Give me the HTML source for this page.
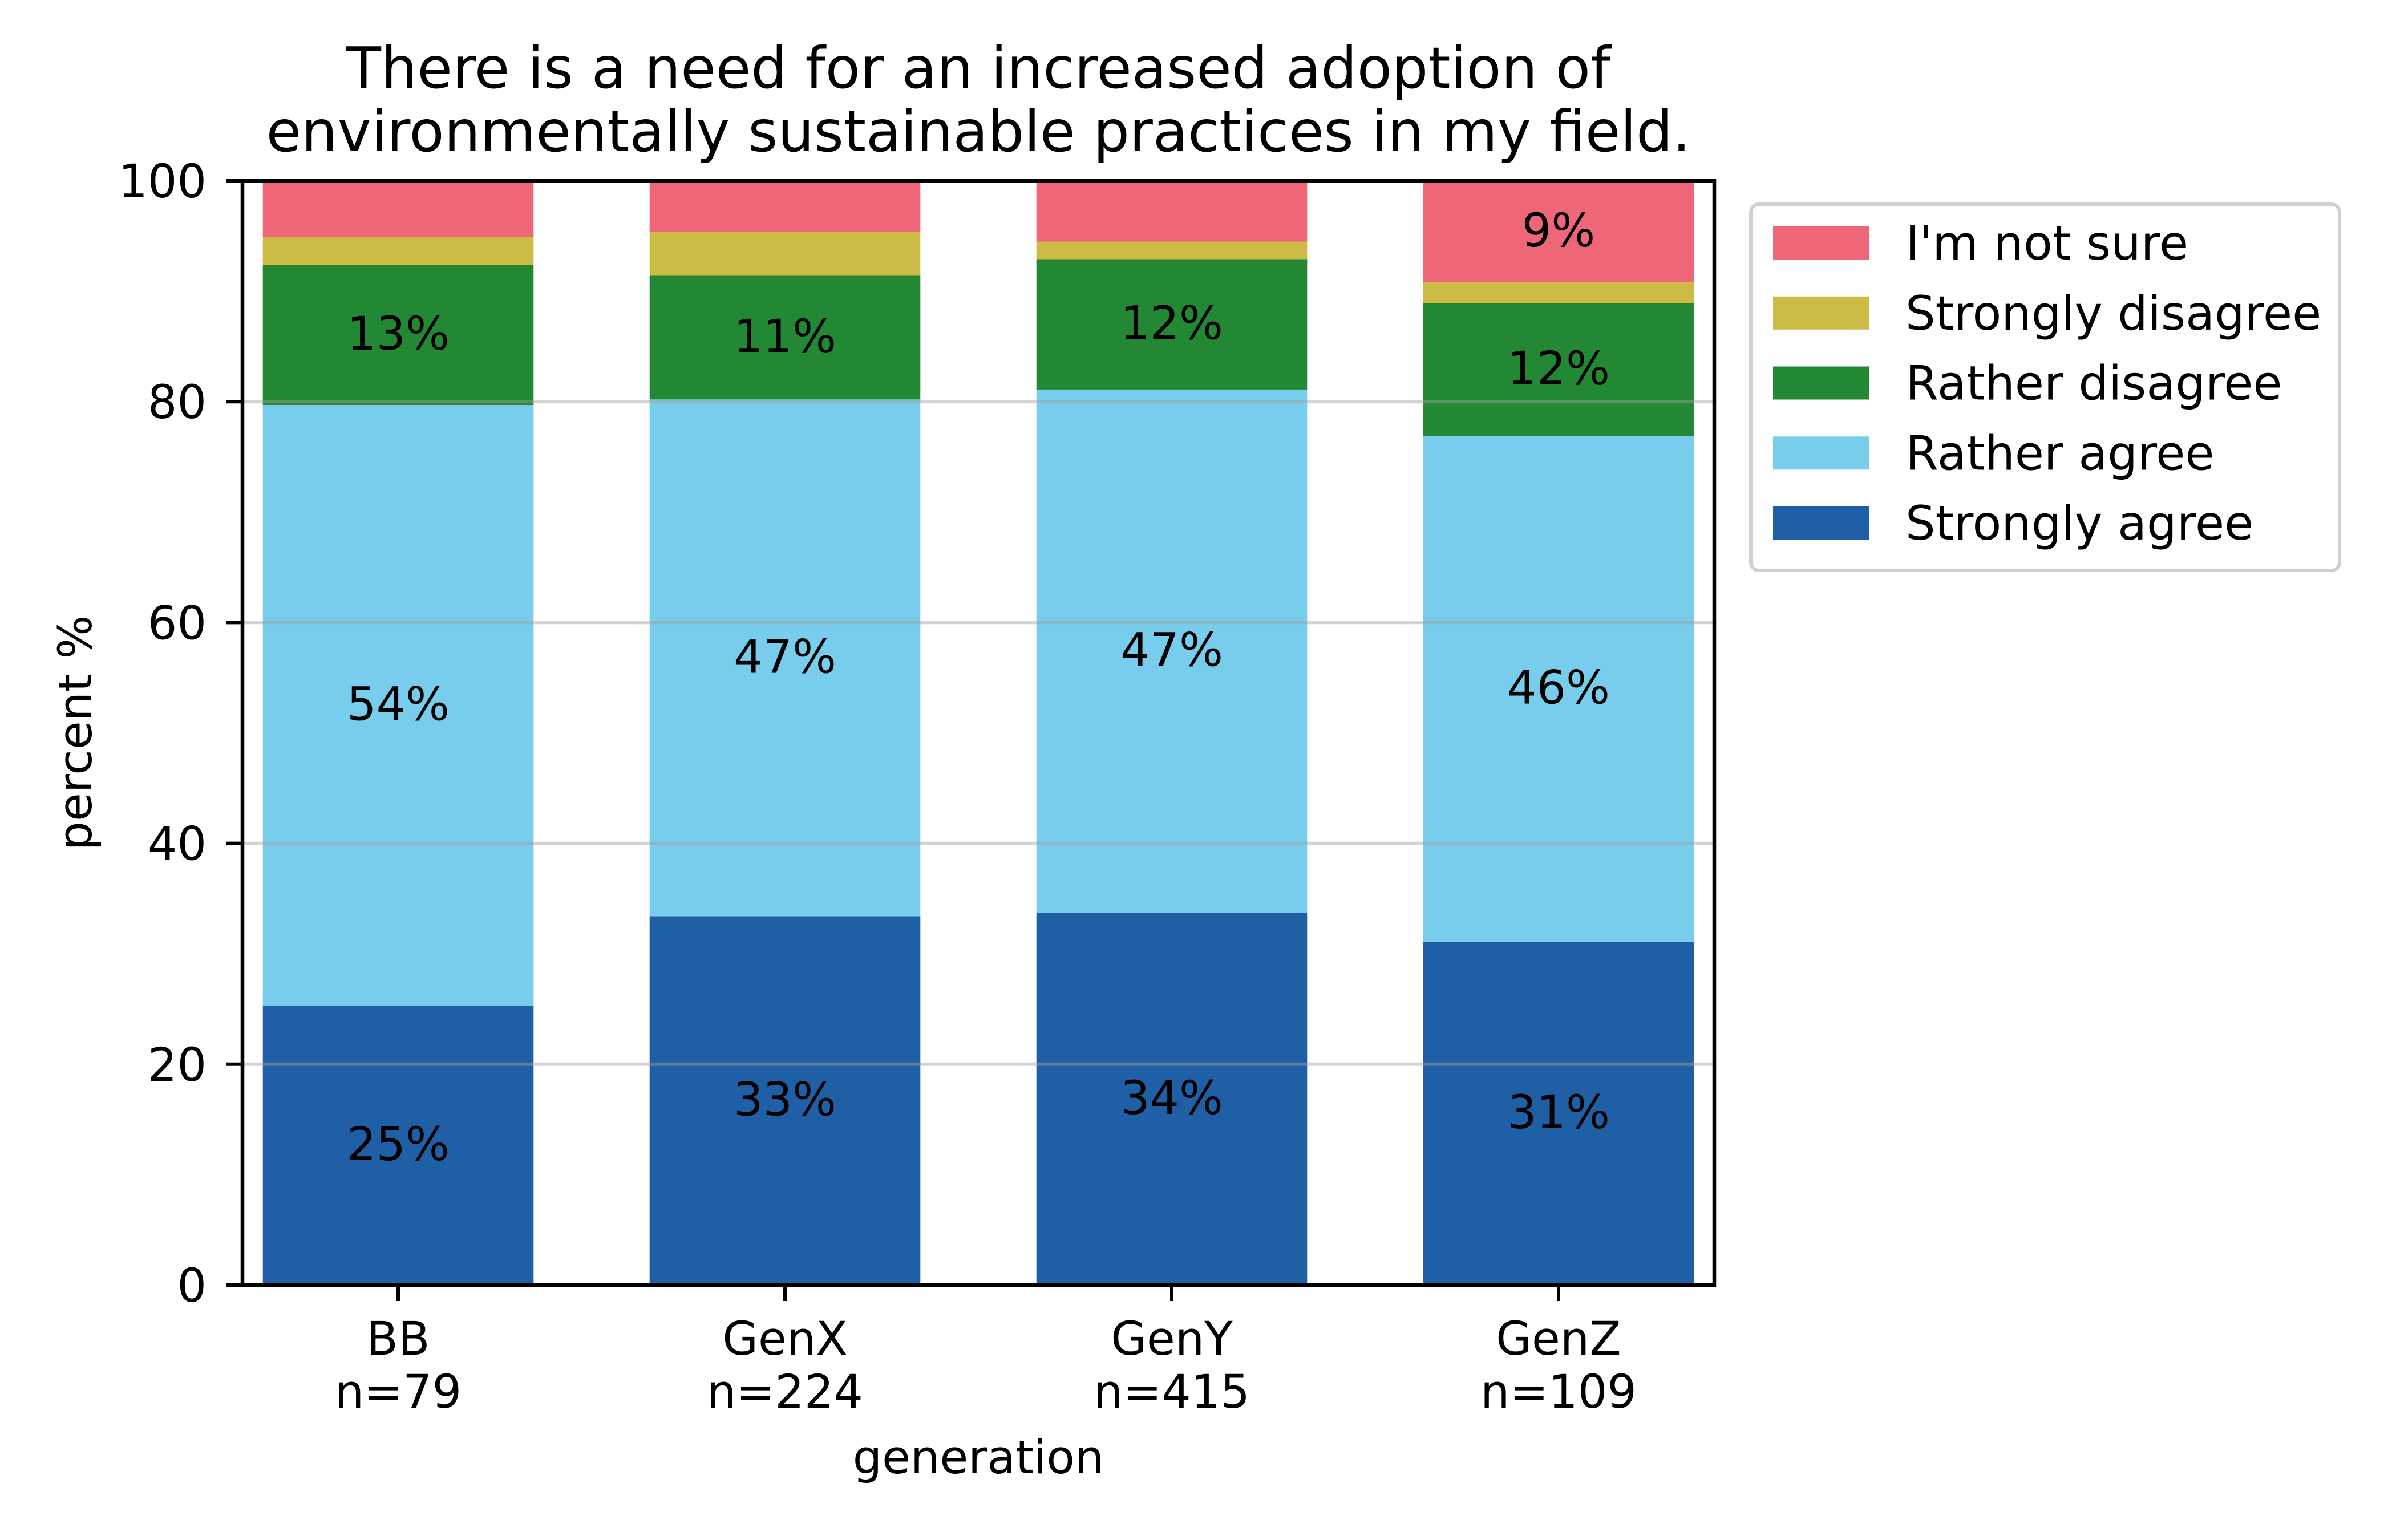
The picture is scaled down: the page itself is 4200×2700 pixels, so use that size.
<!DOCTYPE html>
<html><head><meta charset="utf-8"><style>
html,body{margin:0;padding:0;background:#fff}
svg{display:block}
text{font-family:"DejaVu Sans","Liberation Sans",sans-serif;fill:#000}
</style></head><body>
<svg id="chart" width="4200" height="2700" viewBox="0 0 4200 2700" xmlns="http://www.w3.org/2000/svg">
<rect width="4200" height="2700" fill="#fff"/>
<text x="1715" y="154" font-size="100" text-anchor="middle">There is a need for an increased adoption of</text>
<text x="1715" y="265" font-size="100" text-anchor="middle">environmentally sustainable practices in my field.</text>
<g id="bars"></g>
<g id="grid"></g>
<g id="labels"></g>
<g id="axes"></g>
<text transform="translate(160,1285) rotate(-90)" font-size="81" text-anchor="middle">percent %</text>
<text x="1715" y="2583" font-size="81" text-anchor="middle">generation</text>
<g id="legend"></g>
</svg>
<script>
const categories = ["BB","GenX","GenY","GenZ"];
const counts = ["n=79","n=224","n=415","n=109"];
const seriesNames = ["Strongly agree","Rather agree","Rather disagree","Strongly disagree","I'm not sure"];
const stronglyAgree = [25.3, 33.4, 33.7, 31.1];
const ratherAgree = [54.4, 46.8, 47.4, 45.8];
const ratherDisagree = [12.7, 11.2, 11.8, 12.0];
const stronglyDisagree = [2.5, 4.0, 1.6, 1.9];
const notSure = [5.1, 4.6, 5.5, 9.2];
const yTicks = [0, 20, 40, 60, 80, 100];

const colors = ["#1F5FA5","#77CDEB","#228833","#CCBB44","#EE6677"];
const series = [stronglyAgree, ratherAgree, ratherDisagree, stronglyDisagree, notSure];
const NS = "http://www.w3.org/2000/svg";
const L = 425, R = 3005, T = 317, B = 2253;
const slot = 678;
function xC(i){ return 698 + i * slot; }
function yS(v){ return B - (v / 100) * (B - T); }
function mk(tag, attrs, parent){ const e = document.createElementNS(NS, tag); for (const k in attrs) e.setAttribute(k, attrs[k]); parent.appendChild(e); return e; }
const bw = slot * 0.7;
const gBars = document.getElementById('bars');
const gLab = document.getElementById('labels');
categories.forEach((c, i) => {
  let base = 0;
  series.forEach((s, j) => {
    const v = s[i];
    const r = mk('rect', {x: xC(i) - bw/2, y: yS(base + v), width: bw, height: yS(base) - yS(base + v), fill: colors[j]}, gBars);
    
    
    if (v >= 8) {
      const t = mk('text', {x: xC(i), y: yS(base + v/2) + 26, 'font-size': 81, 'text-anchor': 'middle'}, gLab);
      t.textContent = Math.round(v) + '%';
      
      
    }
    base += v;
  });
});
const gGrid = document.getElementById('grid');
yTicks.forEach(v => {
  if (v === 0 || v === 100) return;
  const l = mk('line', {x1: L, x2: R, y1: yS(v), y2: yS(v), stroke: '#a0a0a0', 'stroke-width': 6, 'stroke-opacity': 0.45}, gGrid);
  
  
});
const gAx = document.getElementById('axes');
const frame = mk('rect', {x: L, y: T, width: R - L, height: B - T, fill: 'none', stroke: '#000', 'stroke-width': 6.5}, gAx);


yTicks.forEach(v => {
  const tk = mk('line', {x1: L - 28, x2: L, y1: yS(v), y2: yS(v), stroke: '#000', 'stroke-width': 6}, gAx);
  
  
  const t = mk('text', {x: 362, y: yS(v) + 29, 'font-size': 81, 'text-anchor': 'end'}, gAx);
  t.textContent = v;
  
  
});
categories.forEach((c, i) => {
  const tk = mk('line', {x1: xC(i), x2: xC(i), y1: B, y2: B + 28, stroke: '#000', 'stroke-width': 6}, gAx);
  
  
  const t = mk('text', {x: xC(i), y: 2375, 'font-size': 81, 'text-anchor': 'middle'}, gAx);
  t.textContent = c;
  
  
  const n = mk('text', {x: xC(i), y: 2468, 'font-size': 81, 'text-anchor': 'middle'}, gAx);
  n.textContent = counts[i];
  
  
});
const gLeg = document.getElementById('legend');
const box = mk('rect', {x: 3069, y: 358, width: 1032, height: 642, rx: 14, fill: '#fff', stroke: '#d0d0d0', 'stroke-width': 6}, gLeg);


[4,3,2,1,0].forEach((j, k) => {
  const cy = 426 + k * 122.75;
  const p = mk('rect', {x: 3108, y: cy - 29, width: 168, height: 58, fill: colors[j]}, gLeg);
  
  
  const t = mk('text', {x: 3340, y: cy + 29, 'font-size': 83}, gLeg);
  t.textContent = seriesNames[j];
  
  
});
</script>
</body></html>
